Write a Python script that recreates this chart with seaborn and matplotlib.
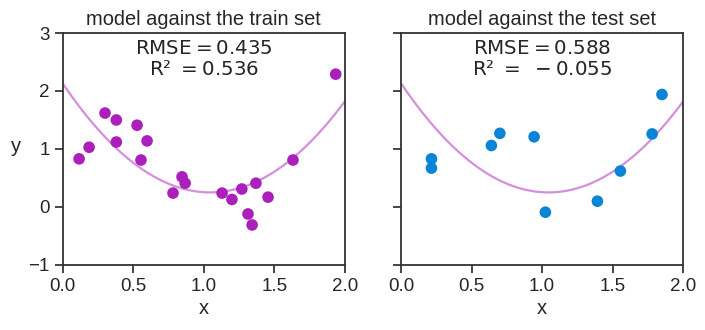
import numpy as np
import pandas as pd
import matplotlib
matplotlib.use("Agg")
import matplotlib.pyplot as plt
import seaborn as sns

train_x = [0.116, 0.187, 0.30, 0.38, 0.38, 0.527, 0.598, 0.555, 0.782, 0.846,
           0.868, 1.13, 1.20, 1.27, 1.37, 1.314, 1.343, 1.456, 1.633, 1.936]
train_y = [0.83, 1.03, 1.62, 1.50, 1.12, 1.41, 1.14, 0.81, 0.24, 0.52,
           0.41, 0.24, 0.13, 0.31, 0.41, -0.12, -0.31, 0.17, 0.81, 2.29]
test_x = [0.215, 0.215, 0.64, 0.70, 0.943, 1.023, 1.392, 1.555, 1.78, 1.85]
test_y = [0.83, 0.67, 1.06, 1.27, 1.21, -0.09, 0.10, 0.62, 1.26, 1.94]
# fitted quadratic model coefficients (highest power first)
model_coef = [1.72, -3.595, 2.13]
titles = ["model against the train set", "model against the test set"]
scores = [("0.435", "0.536"), ("0.588", "-0.055")]
xticks = [0.0, 0.5, 1.0, 1.5, 2.0]
yticks = [-1, 0, 1, 2, 3]

sns.set_theme(style="ticks", context="talk")
plt.rcParams["font.family"] = ["Liberation Sans", "DejaVu Sans"]

fig, axes = plt.subplots(1, 2, figsize=(7.05, 3.3), dpi=100, sharey=True)
fig.subplots_adjust(left=0.089, right=0.969, top=0.9, bottom=0.197, wspace=0.2)

purple = "#AB20BA"
blue = "#0A84D6"
xs = np.linspace(0, 2, 200)
curve = pd.DataFrame({"x": xs, "y": np.polyval(model_coef, xs)})
datasets = [pd.DataFrame({"x": train_x, "y": train_y}),
            pd.DataFrame({"x": test_x, "y": test_y})]
colors = [purple, blue]

for ax, df, col, title, (rmse, r2) in zip(axes, datasets, colors, titles, scores):
    sns.lineplot(data=curve, x="x", y="y", ax=ax, color=purple, alpha=0.5, lw=1.6)
    sns.scatterplot(data=df, x="x", y="y", ax=ax, color=col, s=70, edgecolor="none", zorder=3)
    ax.set_xlim(0, 2)
    ax.set_ylim(-1, 3)
    ax.set_xticks(xticks)
    ax.set_yticks(yticks)
    ax.set_title(title, fontsize=14.4, pad=6)
    ax.set_xlabel("x", fontsize=14.5, labelpad=3)
    ax.tick_params(labelsize=13.5, length=6, width=1.2)
    r2txt = r2.replace("-", r"\ -")
    ax.text(0.5, 0.975, r"$\mathrm{RMSE} = %s$" % rmse + "\n" + r"R² $= %s$" % r2txt,
            transform=ax.transAxes, ha="center", va="top", fontsize=14.3,
            family="DejaVu Sans", linespacing=1.15)
    for s in ax.spines.values():
        s.set_linewidth(1.3)
        s.set_color("#333333")

axes[0].set_ylabel("y", fontsize=14.5, rotation=0)
axes[0].yaxis.set_label_coords(-0.165, 0.47)
axes[1].set_ylabel("")

fig.savefig("out.png", dpi=100)
